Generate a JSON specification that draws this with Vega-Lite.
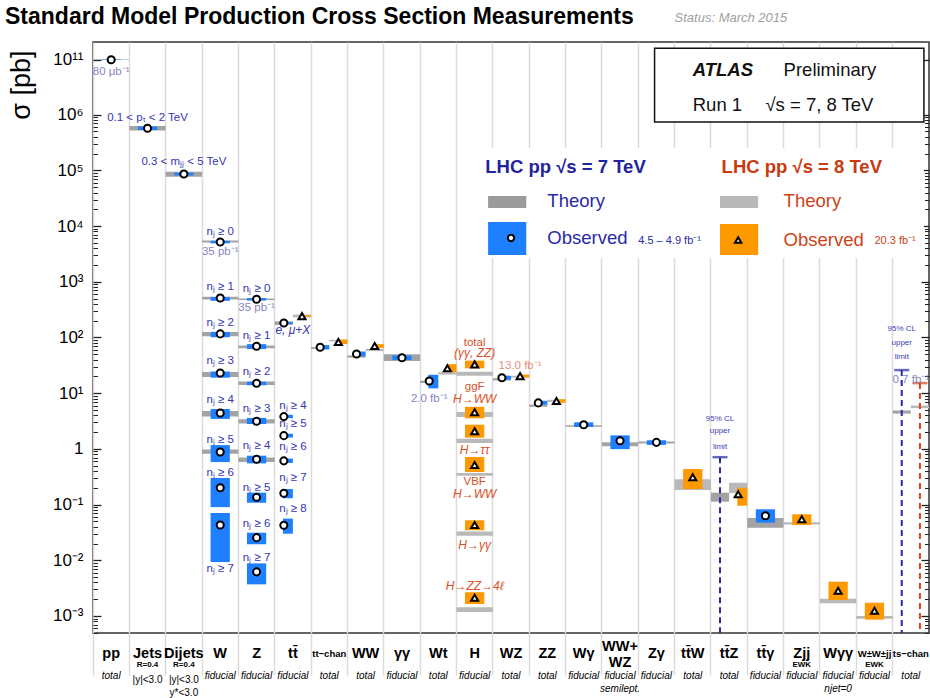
{
  "$schema": "https://vega.github.io/schema/vega-lite/v6.json",
  "width": 836,
  "height": 591,
  "autosize": {"type": "none"},
  "padding": {"left": 93, "top": 42, "right": 1, "bottom": 65},
  "background": "white",
  "title": {"text": "Standard Model Production Cross Section Measurements", "anchor": "start", "frame": "group", "dx": -88, "offset": 0, "dy": 17, "fontSize": 23, "fontWeight": "bold", "font": "Liberation Sans", "color": "black"},
  "config": {"view": {"stroke": "#333333", "strokeWidth": 1.5}, "font": "Liberation Sans", "text": {"font": "Liberation Sans"}, "axis": {"labelFont": "Liberation Sans", "titleFont": "Liberation Sans"}},
  "resolve": {"scale": {"color": "independent", "size": "independent", "stroke": "independent", "fill": "independent"}, "axis": {"x": "independent", "y": "independent"}},
  "datasets": {
    "meas": [
      {"process": "pp", "energy": "7 TeV", "label": "total", "value": 95000000000, "olo": 90000000000, "ohi": 100000000000, "tlo": 92000000000, "thi": 99000000000},
      {"process": "Jets", "energy": "7 TeV", "label": "R=0.4", "value": 570000, "olo": 530000, "ohi": 615000, "tlo": 520000, "thi": 630000},
      {"process": "Dijets", "energy": "7 TeV", "label": "R=0.4", "value": 86000, "olo": 81000, "ohi": 91000, "tlo": 77000, "thi": 95000},
      {"process": "W", "energy": "7 TeV", "label": "nj>=0", "value": 5180, "olo": 4900, "ohi": 5450, "tlo": 5100, "thi": 5500},
      {"process": "W", "energy": "7 TeV", "label": "nj>=1", "value": 512, "olo": 455, "ohi": 535, "tlo": 480, "thi": 540},
      {"process": "W", "energy": "7 TeV", "label": "nj>=2", "value": 116, "olo": 101, "ohi": 126, "tlo": 105, "thi": 125},
      {"process": "W", "energy": "7 TeV", "label": "nj>=3", "value": 23, "olo": 19, "ohi": 24.5, "tlo": 19.5, "thi": 24},
      {"process": "W", "energy": "7 TeV", "label": "nj>=4", "value": 4.4, "olo": 3.45, "ohi": 5.2, "tlo": 3.8, "thi": 4.8},
      {"process": "W", "energy": "7 TeV", "label": "nj>=5", "value": 0.88, "olo": 0.58, "ohi": 1.17, "tlo": 0.82, "thi": 0.98},
      {"process": "W", "energy": "7 TeV", "label": "nj>=6", "value": 0.2, "olo": 0.09, "ohi": 0.3, "tlo": null, "thi": null},
      {"process": "W", "energy": "7 TeV", "label": "nj>=7", "value": 0.043, "olo": 0.0093, "ohi": 0.0706, "tlo": null, "thi": null},
      {"process": "Z", "energy": "7 TeV", "label": "nj>=0", "value": 485, "olo": 460, "ohi": 510, "tlo": 470, "thi": 500},
      {"process": "Z", "energy": "7 TeV", "label": "nj>=1", "value": 69.5, "olo": 62, "ohi": 76, "tlo": 64, "thi": 72},
      {"process": "Z", "energy": "7 TeV", "label": "nj>=2", "value": 15.1, "olo": 13.9, "ohi": 16.1, "tlo": 14, "thi": 16.2},
      {"process": "Z", "energy": "7 TeV", "label": "nj>=3", "value": 3.13, "olo": 2.8, "ohi": 3.6, "tlo": 2.85, "thi": 3.4},
      {"process": "Z", "energy": "7 TeV", "label": "nj>=4", "value": 0.65, "olo": 0.55, "ohi": 0.755, "tlo": 0.58, "thi": 0.7},
      {"process": "Z", "energy": "7 TeV", "label": "nj>=5", "value": 0.135, "olo": 0.108, "ohi": 0.164, "tlo": null, "thi": null},
      {"process": "Z", "energy": "7 TeV", "label": "nj>=6", "value": 0.0255, "olo": 0.0194, "ohi": 0.0313, "tlo": null, "thi": null},
      {"process": "Z", "energy": "7 TeV", "label": "nj>=7", "value": 0.0062, "olo": 0.0037, "ohi": 0.0088, "tlo": null, "thi": null},
      {"process": "ttbar", "energy": "7 TeV", "label": "total", "value": 182, "olo": 176, "ohi": 189, "tlo": 168, "thi": 195},
      {"process": "ttbar", "energy": "8 TeV", "label": "total", "value": 242, "olo": 235, "ohi": 250, "tlo": 230, "thi": 258},
      {"process": "ttbar", "energy": "7 TeV", "label": "nj>=4", "value": 3.8, "olo": 3.55, "ohi": 4.1, "tlo": null, "thi": null},
      {"process": "ttbar", "energy": "7 TeV", "label": "nj>=5", "value": 1.73, "olo": 1.6, "ohi": 1.87, "tlo": null, "thi": null},
      {"process": "ttbar", "energy": "7 TeV", "label": "nj>=6", "value": 0.61, "olo": 0.56, "ohi": 0.67, "tlo": null, "thi": null},
      {"process": "ttbar", "energy": "7 TeV", "label": "nj>=7", "value": 0.16, "olo": 0.13, "ohi": 0.19, "tlo": null, "thi": null},
      {"process": "ttbar", "energy": "7 TeV", "label": "nj>=8", "value": 0.0425, "olo": 0.03, "ohi": 0.056, "tlo": null, "thi": null},
      {"process": "t-chan", "energy": "7 TeV", "label": "total", "value": 66.7, "olo": 61, "ohi": 73, "tlo": 62, "thi": 67},
      {"process": "t-chan", "energy": "8 TeV", "label": "total", "value": 83, "olo": 76, "ohi": 92, "tlo": 85, "thi": 91},
      {"process": "WW", "energy": "7 TeV", "label": "total", "value": 50.6, "olo": 46, "ohi": 56, "tlo": 43.5, "thi": 47.5},
      {"process": "WW", "energy": "8 TeV", "label": "total", "value": 70.3, "olo": 65, "ohi": 76, "tlo": 57, "thi": 62.5},
      {"process": "γγ", "energy": "7 TeV", "label": "fiducial", "value": 43.4, "olo": 39.4, "ohi": 47.6, "tlo": 37.9, "thi": 49.9},
      {"process": "Wt", "energy": "7 TeV", "label": "total", "value": 16.6, "olo": 12.2, "ohi": 21.4, "tlo": 15.2, "thi": 16.8},
      {"process": "Wt", "energy": "8 TeV", "label": "total", "value": 28, "olo": 23.9, "ohi": 33.2, "tlo": 21.6, "thi": 23.8},
      {"process": "H", "energy": "8 TeV", "label": "total", "value": 33, "olo": 28, "ohi": 38.4, "tlo": 20.6, "thi": 24.3},
      {"process": "H", "energy": "8 TeV", "label": "ggF H→WW", "value": 4.54, "olo": 3.54, "ohi": 5.7, "tlo": 3.74, "thi": 4.6},
      {"process": "H", "energy": "8 TeV", "label": "H→ττ", "value": 2.07, "olo": 1.59, "ohi": 2.72, "tlo": 1.28, "thi": 1.52},
      {"process": "H", "energy": "8 TeV", "label": "VBF H→WW", "value": 0.514, "olo": 0.385, "ohi": 0.716, "tlo": 0.33, "thi": 0.37},
      {"process": "H", "energy": "8 TeV", "label": "H→γγ", "value": 0.043, "olo": 0.0346, "ohi": 0.0522, "tlo": 0.0277, "thi": 0.033},
      {"process": "H", "energy": "8 TeV", "label": "H→ZZ→4l", "value": 0.00213, "olo": 0.00164, "ohi": 0.00267, "tlo": 0.00118, "thi": 0.00143},
      {"process": "WZ", "energy": "7 TeV", "label": "total", "value": 19, "olo": 17.5, "ohi": 20.6, "tlo": 16.9, "thi": 18.6},
      {"process": "WZ", "energy": "8 TeV", "label": "total", "value": 20.3, "olo": 19.2, "ohi": 21.6, "tlo": 19, "thi": 20.6},
      {"process": "ZZ", "energy": "7 TeV", "label": "total", "value": 6.7, "olo": 6.2, "ohi": 7.3, "tlo": 5.7, "thi": 6.25},
      {"process": "ZZ", "energy": "8 TeV", "label": "total", "value": 7.25, "olo": 6.75, "ohi": 7.8, "tlo": 7, "thi": 7.6},
      {"process": "Wγ", "energy": "7 TeV", "label": "fiducial", "value": 2.72, "olo": 2.47, "ohi": 3, "tlo": 2.5, "thi": 2.66},
      {"process": "WW+WZ", "energy": "7 TeV", "label": "fiducial", "value": 1.4, "olo": 0.99, "ohi": 1.75, "tlo": 1.12, "thi": 1.32},
      {"process": "Zγ", "energy": "7 TeV", "label": "fiducial", "value": 1.31, "olo": 1.18, "ohi": 1.43, "tlo": 1.25, "thi": 1.36},
      {"process": "ttW", "energy": "8 TeV", "label": "total", "value": 0.31, "olo": 0.19, "ohi": 0.435, "tlo": 0.183, "thi": 0.285},
      {"process": "ttZ", "energy": "7 TeV", "label": "total", "value": null, "olo": null, "ohi": null, "tlo": 0.1127, "thi": 0.1637},
      {"process": "ttZ", "energy": "8 TeV", "label": "total", "value": 0.153, "olo": 0.0955, "ohi": 0.2, "tlo": 0.161, "thi": 0.247},
      {"process": "ttγ", "energy": "7 TeV", "label": "fiducial", "value": 0.063, "olo": 0.0473, "ohi": 0.0824, "tlo": 0.0385, "thi": 0.0575},
      {"process": "Zjj", "energy": "8 TeV", "label": "fiducial", "value": 0.0545, "olo": 0.043, "ohi": 0.067, "tlo": 0.044, "thi": 0.048},
      {"process": "Wγγ", "energy": "8 TeV", "label": "fiducial", "value": 0.00284, "olo": 0.00194, "ohi": 0.00413, "tlo": 0.00169, "thi": 0.00205},
      {"process": "W±W±jj", "energy": "8 TeV", "label": "fiducial", "value": 0.00124, "olo": 0.00086, "ohi": 0.00173, "tlo": 0.00089, "thi": 0.001},
      {"process": "s-chan", "energy": "7 TeV", "label": "total", "value": null, "olo": null, "ohi": null, "tlo": 4.3, "thi": 4.9},
      {"process": "s-chan", "energy": "8 TeV", "label": "total", "value": null, "olo": null, "ohi": null, "tlo": 5.4, "thi": 6.0}
    ],
    "limits": [
      {"process": "ttZ", "energy": "7 TeV", "value": 0.71},
      {"process": "s-chan", "energy": "7 TeV", "value": 26},
      {"process": "s-chan", "energy": "8 TeV", "value": 15.2}
    ],
    "boxes": [
      {"from": "H", "to": "s-chan", "lo": 2670, "hi": 250000, "kind": "bg"},
      {"from": "Zγ", "to": "s-chan", "lo": 740000, "hi": 1050000000000, "kind": "box"}
    ],
    "swatch7": [
      {"from": "H", "to": "WZ", "lo": 21100, "hi": 34700, "kind": "th"},
      {"from": "H", "to": "WZ", "lo": 3030, "hi": 11900, "kind": "ob"}
    ],
    "swatch8": [
      {"from": "ttZ", "to": "ttγ", "lo": 21100, "hi": 34700, "kind": "th"},
      {"from": "ttZ", "to": "ttγ", "lo": 3030, "hi": 10900, "kind": "ob"}
    ],
    "legpt7": [{"process": "WZ", "energy": "7 TeV", "value": 6110}],
    "legpt8": [{"process": "ttZ", "energy": "8 TeV", "value": 5620}],
    "notesA": [
      {"process": "Jets", "value": 880000, "text": "0.1 < pₜ < 2 TeV", "kind": "cut"},
      {"process": "Dijets", "value": 142000, "text": "0.3 < mⱼⱼ < 5 TeV", "kind": "cut"},
      {"process": "W", "value": 7740, "text": "nⱼ ≥ 0", "kind": "cut"},
      {"process": "W", "value": 796, "text": "nⱼ ≥ 1", "kind": "cut"},
      {"process": "W", "value": 180, "text": "nⱼ ≥ 2", "kind": "cut"},
      {"process": "W", "value": 37.4, "text": "nⱼ ≥ 3", "kind": "cut"},
      {"process": "W", "value": 7.55, "text": "nⱼ ≥ 4", "kind": "cut"},
      {"process": "W", "value": 1.445, "text": "nⱼ ≥ 5", "kind": "cut"},
      {"process": "W", "value": 0.365, "text": "nⱼ ≥ 6", "kind": "cut"},
      {"process": "W", "value": 0.00689, "text": "nⱼ ≥ 7", "kind": "cut"},
      {"process": "Z", "value": 733, "text": "nⱼ ≥ 0", "kind": "cut"},
      {"process": "Z", "value": 108, "text": "nⱼ ≥ 1", "kind": "cut"},
      {"process": "Z", "value": 24.3, "text": "nⱼ ≥ 2", "kind": "cut"},
      {"process": "Z", "value": 5.14, "text": "nⱼ ≥ 3", "kind": "cut"},
      {"process": "Z", "value": 1.14, "text": "nⱼ ≥ 4", "kind": "cut"},
      {"process": "Z", "value": 0.196, "text": "nⱼ ≥ 5", "kind": "cut"},
      {"process": "Z", "value": 0.0443, "text": "nⱼ ≥ 6", "kind": "cut"},
      {"process": "Z", "value": 0.01086, "text": "nⱼ ≥ 7", "kind": "cut"},
      {"process": "ttbar", "value": 5.9, "text": "nⱼ ≥ 4", "kind": "cut"},
      {"process": "ttbar", "value": 2.8, "text": "nⱼ ≥ 5", "kind": "cut"},
      {"process": "ttbar", "value": 1.07, "text": "nⱼ ≥ 6", "kind": "cut"},
      {"process": "ttbar", "value": 0.296, "text": "nⱼ ≥ 7", "kind": "cut"},
      {"process": "ttbar", "value": 0.0824, "text": "nⱼ ≥ 8", "kind": "cut"},
      {"process": "pp", "value": 7400000000, "text": "80 μb⁻¹", "kind": "lumi"},
      {"process": "W", "value": 3470, "text": "35 pb⁻¹", "kind": "lumi"},
      {"process": "Z", "value": 334, "text": "35 pb⁻¹", "kind": "lumi"},
      {"process": "s-chan", "value": 17.3, "text": "0.7 fb⁻¹", "kind": "lumi"},
      {"process": "H", "value": 80.7, "text": "total", "kind": "hup"},
      {"process": "H", "value": 12.8, "text": "ggF", "kind": "hup"},
      {"process": "H", "value": 0.255, "text": "VBF", "kind": "hup"}
    ],
    "notesB": [
      {"process": "H", "value": 52, "text": "(γγ, ZZ)", "kind": "hit"},
      {"process": "H", "value": 7.78, "text": "H→WW", "kind": "hit"},
      {"process": "H", "value": 0.955, "text": "H→ττ", "kind": "hit"},
      {"process": "H", "value": 0.157, "text": "H→WW", "kind": "hit"},
      {"process": "H", "value": 0.0188, "text": "H→γγ", "kind": "hit"},
      {"process": "H", "value": 0.00346, "text": "H→ZZ→4ℓ", "kind": "hit"},
      {"process": "ttbar", "value": 136, "text": "e, μ+X", "kind": "cutit"}
    ],
    "notesC": [
      {"process": "Wt", "energy": "7 TeV", "value": 7.96, "text": "2.0 fb⁻¹", "kind": "lumi7"},
      {"process": "WZ", "energy": "8 TeV", "value": 30.8, "text": "13.0 fb⁻¹", "kind": "lumi8"},
      {"process": "ttZ", "energy": "7 TeV", "value": 3.49, "text": "95% CL", "kind": "cl"},
      {"process": "ttZ", "energy": "7 TeV", "value": 2.12, "text": "upper", "kind": "cl"},
      {"process": "ttZ", "energy": "7 TeV", "value": 1.07, "text": "limit", "kind": "cl"},
      {"process": "s-chan", "energy": "7 TeV", "value": 142, "text": "95% CL", "kind": "cl"},
      {"process": "s-chan", "energy": "7 TeV", "value": 79.6, "text": "upper", "kind": "cl"},
      {"process": "s-chan", "energy": "7 TeV", "value": 44.7, "text": "limit", "kind": "cl"}
    ],
    "legD": [{"process": "Wγ", "value": 115000, "text": "LHC pp  √s = 7 TeV"}],
    "legE": [{"process": "Zjj", "value": 115000, "text": "LHC pp  √s = 8 TeV"}],
    "legF": [
      {"process": "ZZ", "value": 28200, "text": "Theory", "kind": "leg7"},
      {"process": "ZZ", "value": 6110, "text": "Observed", "kind": "leg7"},
      {"process": "ttW", "value": 7600000, "text": "Run 1", "kind": "black"},
      {"process": "ttγ", "value": 7600000, "text": "√s = 7, 8 TeV", "kind": "black"},
      {"process": "W±W±jj", "value": 5400, "text": "20.3 fb⁻¹", "kind": "leg8s"}
    ],
    "legG": [
      {"process": "Zjj", "value": 28200, "text": "Theory", "kind": "leg8"},
      {"process": "Zjj", "value": 5620, "text": "Observed", "kind": "leg8"},
      {"process": "Zjj", "value": 11200000000, "text": "Preliminary", "kind": "black"},
      {"process": "Zγ", "value": 5400, "text": "4.5 – 4.9 fb⁻¹", "kind": "leg7s"}
    ],
    "legJ": [{"process": "ttW", "value": 11200000000, "text": "ATLAS"}],
    "legK": [{"process": "ttW", "value": 550000000000000, "text": "Status: March 2015"}]
  },
  "layer": [
    {
      "data": {"name": "boxes"},
      "mark": {"type": "rect", "strokeWidth": 1.5, "fill": "white"},
      "encoding": {
        "x": {"field": "from", "type": "nominal", "bandPosition": 0.45, "axis": null},
        "x2": {"field": "to", "bandPosition": 0.86},
        "y": {"field": "lo", "type": "quantitative", "axis": null},
        "y2": {"field": "hi"},
        "stroke": {"field": "kind", "type": "nominal", "scale": {"domain": ["bg", "box"], "range": ["rgba(255,255,255,0)", "#111111"]}, "legend": null}
      }
    },
    {
      "data": {"name": "meas"},
      "transform": [{"filter": {"not": {"field": "process", "oneOf": ["ttbar", "t-chan", "WW", "Wt", "WZ", "ZZ", "ttZ", "s-chan"]}}}, {"filter": "isValid(datum.tlo)"}],
      "mark": {"type": "bar"},
      "encoding": {
        "x": {"field": "process", "type": "nominal",
          "scale": {"domain": ["pp", "Jets", "Dijets", "W", "Z", "ttbar", "t-chan", "WW", "γγ", "Wt", "H", "WZ", "ZZ", "Wγ", "WW+WZ", "Zγ", "ttW", "ttZ", "ttγ", "Zjj", "Wγγ", "W±W±jj", "s-chan"], "paddingInner": 0, "paddingOuter": 0},
          "axis": {"orient": "bottom", "bandPosition": 0, "labels": false, "domain": false, "ticks": true, "tickSize": 42, "tickColor": "#dcdcdc", "tickWidth": 1.5, "grid": true, "gridColor": "#dcdcdc", "gridWidth": 1.5, "title": null}},
        "y": {"field": "tlo", "type": "quantitative",
          "scale": {"type": "log", "domain": [0.000495, 1000000, 100000000000, 3800000000000], "range": [591, 72.7, 17.5, 0], "nice": false, "zero": false},
          "axis": {"orient": "left", "values": [0.001, 0.01, 0.1, 1, 10, 100, 1000, 10000, 100000, 1000000, 100000000000],
            "labelExpr": "['10⁻³','10⁻²','10⁻¹','1','10¹','10²','10³','10⁴','10⁵','10⁶','','','','','10¹¹'][round(log(datum.value)/LN10)+3]",
            "tickSize": -8, "tickWidth": 1.3, "tickColor": "#222222", "labelFontSize": 17, "labelColor": "black", "labelPadding": 18, "labelBaseline": "middle", "labelOverlap": false, "labelFlush": false, "domain": false, "grid": false,
            "title": "σ [pb]", "titleFontSize": 27, "titleFontWeight": "normal", "titleColor": "black", "titleAnchor": "end", "titleAngle": -90, "titleX": -72, "titleY": 8, "titleAlign": "right", "titleBaseline": "middle"}},
        "y2": {"field": "thi"},
        "color": {"field": "energy", "type": "nominal", "scale": {"domain": ["7 TeV", "8 TeV"], "range": ["#a3a3a3", "#b9b9b9"]}, "legend": null}
      }
    },
    {
      "data": {"name": "meas"},
      "transform": [{"filter": {"field": "process", "oneOf": ["ttbar", "t-chan", "WW", "Wt", "WZ", "ZZ", "ttZ", "s-chan"]}}, {"filter": "isValid(datum.tlo)"}],
      "mark": {"type": "bar"},
      "encoding": {
        "x": {"field": "process", "type": "nominal",
          "axis": {"orient": "bottom", "ticks": false, "domain": false, "grid": false, "title": null, "labelAngle": 0, "labelOverlap": false, "labelBound": false, "labelLimit": 0,
            "labelExpr": "datum.value == 'ttbar' ? 'tt̄' : datum.value == 't-chan' ? 'tt−chan' : datum.value == 's-chan' ? 'ts−chan' : datum.value == 'WW+WZ' ? ['WW+', 'WZ'] : datum.value == 'ttW' ? 'tt̄W' : datum.value == 'ttZ' ? 'tt̄Z' : datum.value == 'ttγ' ? 'tt̄γ' : datum.value",
            "labelFontSize": {"condition": {"test": "datum.value == 't-chan' || datum.value == 's-chan' || datum.value == 'W±W±jj'", "value": 9.5}, "value": 14.5},
            "labelPadding": {"condition": {"test": "datum.value == 'WW+WZ'", "value": 13}, "value": 20},
            "labelFontWeight": "bold", "labelColor": "black", "labelBaseline": "middle", "labelLineHeight": 16}},
        "xOffset": {"field": "energy", "type": "nominal", "scale": {"domain": ["7 TeV", "8 TeV"], "paddingInner": 0, "paddingOuter": 0}},
        "y": {"field": "tlo", "type": "quantitative",
          "axis": {"orient": "left", "values": [0.0005, 0.0006, 0.0007, 0.0008, 0.0009, 0.002, 0.003, 0.004, 0.005, 0.006, 0.007, 0.008, 0.009, 0.02, 0.03, 0.04, 0.05, 0.06, 0.07, 0.08, 0.09, 0.2, 0.3, 0.4, 0.5, 0.6, 0.7, 0.8, 0.9, 2, 3, 4, 5, 6, 7, 8, 9, 20, 30, 40, 50, 60, 70, 80, 90, 200, 300, 400, 500, 600, 700, 800, 900, 2000, 3000, 4000, 5000, 6000, 7000, 8000, 9000, 20000, 30000, 40000, 50000, 60000, 70000, 80000, 90000, 200000, 300000, 400000, 500000, 600000, 700000, 800000, 900000],
            "labels": false, "tickSize": -4.5, "tickWidth": 1, "tickColor": "#222222", "domain": false, "grid": false, "title": null}},
        "y2": {"field": "thi"},
        "color": {"field": "energy", "type": "nominal", "scale": {"domain": ["7 TeV", "8 TeV"], "range": ["#a3a3a3", "#b9b9b9"]}, "legend": null}
      }
    },
    {
      "data": {"name": "meas"},
      "transform": [{"filter": {"not": {"field": "process", "oneOf": ["ttbar", "t-chan", "WW", "Wt", "WZ", "ZZ", "ttZ", "s-chan"]}}}, {"filter": "isValid(datum.olo)"}],
      "mark": {"type": "bar", "width": {"band": 0.53}},
      "encoding": {
        "x": {"field": "process", "type": "nominal",
          "axis": {"orient": "bottom", "ticks": false, "domain": false, "grid": false, "title": null, "labelAngle": 0, "labelOverlap": false, "labelBound": false,
            "labelExpr": "(datum.value == 'Jets' || datum.value == 'Dijets') ? 'R=0.4' : (datum.value == 'Zjj' || datum.value == 'W±W±jj') ? 'EWK' : ''",
            "labelFontSize": 8, "labelFontWeight": "bold", "labelColor": "black", "labelPadding": 31, "labelBaseline": "middle"}},
        "y": {"field": "olo", "type": "quantitative",
          "axis": {"orient": "right", "values": [0.001, 0.01, 0.1, 1, 10, 100, 1000, 10000, 100000, 1000000, 100000000000], "labels": false, "tickSize": -8, "tickWidth": 1.3, "tickColor": "#222222", "domain": false, "grid": false, "title": null}},
        "y2": {"field": "ohi"},
        "color": {"field": "energy", "type": "nominal", "scale": {"domain": ["7 TeV", "8 TeV"], "range": ["#1f80ff", "#ff9900"]}, "legend": null}
      }
    },
    {
      "data": {"name": "meas"},
      "transform": [{"filter": {"field": "process", "oneOf": ["ttbar", "t-chan", "WW", "Wt", "WZ", "ZZ", "ttZ", "s-chan"]}}, {"filter": "isValid(datum.olo)"}],
      "mark": {"type": "bar", "width": {"band": 0.55}},
      "encoding": {
        "x": {"field": "process", "type": "nominal",
          "axis": {"orient": "bottom", "ticks": false, "domain": false, "grid": false, "title": null, "labelAngle": 0, "labelOverlap": false, "labelBound": false, "labelLimit": 0,
            "labelExpr": "datum.value == 'Jets' ? '|y|<3.0' : datum.value == 'Dijets' ? ['|y|<3.0', 'y*<3.0'] : datum.value == 'WW+WZ' ? ['fiducial', 'semilept.'] : datum.value == 'Wγγ' ? ['fiducial', 'njet=0'] : indexof(['pp','t-chan','WW','Wt','WZ','ZZ','ttW','ttZ','s-chan'], datum.value) >= 0 ? 'total' : 'fiducial'",
            "labelFontSize": 10, "labelFontStyle": {"condition": {"test": "datum.value == 'Jets' || datum.value == 'Dijets'", "value": "normal"}, "value": "italic"},
            "labelPadding": {"condition": {"test": "datum.value == 'Jets' || datum.value == 'Dijets'", "value": 41}, "value": 37},
            "labelColor": "black", "labelBaseline": "top", "labelLineHeight": 13}},
        "xOffset": {"field": "energy", "type": "nominal"},
        "y": {"field": "olo", "type": "quantitative",
          "axis": {"orient": "right", "values": [0.0005, 0.0006, 0.0007, 0.0008, 0.0009, 0.002, 0.003, 0.004, 0.005, 0.006, 0.007, 0.008, 0.009, 0.02, 0.03, 0.04, 0.05, 0.06, 0.07, 0.08, 0.09, 0.2, 0.3, 0.4, 0.5, 0.6, 0.7, 0.8, 0.9, 2, 3, 4, 5, 6, 7, 8, 9, 20, 30, 40, 50, 60, 70, 80, 90, 200, 300, 400, 500, 600, 700, 800, 900, 2000, 3000, 4000, 5000, 6000, 7000, 8000, 9000, 20000, 30000, 40000, 50000, 60000, 70000, 80000, 90000, 200000, 300000, 400000, 500000, 600000, 700000, 800000, 900000],
            "labels": false, "tickSize": -4.5, "tickWidth": 1, "tickColor": "#222222", "domain": false, "grid": false, "title": null}},
        "y2": {"field": "ohi"},
        "color": {"field": "energy", "type": "nominal", "scale": {"domain": ["7 TeV", "8 TeV"], "range": ["#1f80ff", "#ff9900"]}, "legend": null}
      }
    },
    {
      "data": {"name": "limits"},
      "mark": {"type": "rule", "strokeDash": [6, 4], "strokeWidth": 2},
      "encoding": {
        "x": {"field": "process", "type": "nominal", "axis": null},
        "xOffset": {"field": "energy", "type": "nominal"},
        "y": {"field": "value", "type": "quantitative", "axis": null},
        "y2": {"datum": 0.000495},
        "color": {"field": "energy", "type": "nominal", "scale": {"domain": ["7 TeV", "8 TeV"], "range": ["#2a2aa8", "#d9441c"]}, "legend": null}
      }
    },
    {
      "data": {"name": "limits"},
      "mark": {"type": "tick", "size": 15, "thickness": 2.5},
      "encoding": {
        "x": {"field": "process", "type": "nominal", "axis": null},
        "xOffset": {"field": "energy", "type": "nominal"},
        "y": {"field": "value", "type": "quantitative", "axis": null},
        "color": {"field": "energy", "type": "nominal", "scale": {"domain": ["7 TeV", "8 TeV"], "range": ["#2a2aa8", "#d9441c"]}, "legend": null}
      }
    },
    {
      "data": {"name": "meas"},
      "transform": [{"filter": {"not": {"field": "process", "oneOf": ["ttbar", "t-chan", "WW", "Wt", "WZ", "ZZ", "ttZ", "s-chan"]}}}, {"filter": "isValid(datum.value)"}],
      "mark": {"type": "point", "filled": true, "fill": "white", "stroke": "black", "strokeWidth": 2, "size": 50, "opacity": 1},
      "encoding": {
        "x": {"field": "process", "type": "nominal", "axis": null},
        "y": {"field": "value", "type": "quantitative", "axis": null},
        "shape": {"field": "energy", "type": "nominal", "scale": {"domain": ["7 TeV", "8 TeV"], "range": ["circle", "triangle-up"]}, "legend": null}
      }
    },
    {
      "data": {"name": "meas"},
      "transform": [{"filter": {"field": "process", "oneOf": ["ttbar", "t-chan", "WW", "Wt", "WZ", "ZZ", "ttZ", "s-chan"]}}, {"filter": "isValid(datum.value)"}],
      "mark": {"type": "point", "filled": true, "fill": "white", "stroke": "black", "strokeWidth": 2, "size": 50, "opacity": 1},
      "encoding": {
        "x": {"field": "process", "type": "nominal", "axis": null},
        "xOffset": {"field": "energy", "type": "nominal"},
        "y": {"field": "value", "type": "quantitative", "axis": null},
        "shape": {"field": "energy", "type": "nominal", "scale": {"domain": ["7 TeV", "8 TeV"], "range": ["circle", "triangle-up"]}, "legend": null}
      }
    },
    {
      "data": {"name": "swatch7"},
      "mark": {"type": "rect"},
      "encoding": {
        "x": {"field": "from", "type": "nominal", "bandPosition": 0.87, "axis": null},
        "x2": {"field": "to", "bandPosition": 0.92},
        "y": {"field": "lo", "type": "quantitative", "axis": null},
        "y2": {"field": "hi"},
        "color": {"field": "kind", "type": "nominal", "scale": {"domain": ["th", "ob"], "range": ["#9b9b9b", "#1f80ff"]}, "legend": null}
      }
    },
    {
      "data": {"name": "swatch8"},
      "mark": {"type": "rect"},
      "encoding": {
        "x": {"field": "from", "type": "nominal", "bandPosition": 0.25, "axis": null},
        "x2": {"field": "to", "bandPosition": 0.3},
        "y": {"field": "lo", "type": "quantitative", "axis": null},
        "y2": {"field": "hi"},
        "color": {"field": "kind", "type": "nominal", "scale": {"domain": ["th", "ob"], "range": ["#b9b9b9", "#ff9900"]}, "legend": null}
      }
    },
    {
      "data": {"name": "legpt7"},
      "mark": {"type": "point", "filled": true, "fill": "white", "stroke": "black", "strokeWidth": 2, "size": 40, "opacity": 1},
      "encoding": {
        "x": {"field": "process", "type": "nominal", "axis": null},
        "y": {"field": "value", "type": "quantitative", "axis": null},
        "shape": {"field": "energy", "type": "nominal", "scale": {"domain": ["7 TeV", "8 TeV"], "range": ["circle", "triangle-up"]}, "legend": null}
      }
    },
    {
      "data": {"name": "legpt8"},
      "mark": {"type": "point", "filled": true, "fill": "white", "stroke": "black", "strokeWidth": 2, "size": 40, "opacity": 1},
      "encoding": {
        "x": {"field": "process", "type": "nominal", "axis": null},
        "xOffset": {"field": "energy", "type": "nominal"},
        "y": {"field": "value", "type": "quantitative", "axis": null},
        "shape": {"field": "energy", "type": "nominal", "scale": {"domain": ["7 TeV", "8 TeV"], "range": ["circle", "triangle-up"]}, "legend": null}
      }
    },
    {
      "data": {"name": "notesA"},
      "mark": {"type": "text", "fontSize": 11.5, "baseline": "middle"},
      "encoding": {
        "x": {"field": "process", "type": "nominal", "axis": null},
        "y": {"field": "value", "type": "quantitative", "axis": null},
        "text": {"field": "text"},
        "color": {"field": "kind", "type": "nominal", "scale": {"domain": ["cut", "lumi", "hup"], "range": ["#3535b5", "#8585c2", "#d6502a"]}, "legend": null}
      }
    },
    {
      "data": {"name": "notesB"},
      "mark": {"type": "text", "fontSize": 12, "fontStyle": "italic", "baseline": "middle"},
      "encoding": {
        "x": {"field": "process", "type": "nominal", "axis": null},
        "y": {"field": "value", "type": "quantitative", "axis": null},
        "text": {"field": "text"},
        "color": {"field": "kind", "type": "nominal", "scale": {"domain": ["hit", "cutit"], "range": ["#d6502a", "#3535b5"]}, "legend": null}
      }
    },
    {
      "data": {"name": "notesC"},
      "mark": {"type": "text", "baseline": "middle"},
      "encoding": {
        "x": {"field": "process", "type": "nominal", "axis": null},
        "xOffset": {"field": "energy", "type": "nominal"},
        "y": {"field": "value", "type": "quantitative", "axis": null},
        "text": {"field": "text"},
        "size": {"field": "kind", "type": "nominal", "scale": {"type": "ordinal", "domain": ["lumi7", "lumi8", "cl"], "range": [11.5, 11.5, 8]}, "legend": null},
        "color": {"field": "kind", "type": "nominal", "scale": {"domain": ["lumi7", "lumi8", "cl"], "range": ["#8585c2", "#e39178", "#3d3db5"]}, "legend": null}
      }
    },
    {
      "data": {"name": "legD"},
      "mark": {"type": "text", "fontSize": 18.5, "fontWeight": "bold", "color": "#22229e", "baseline": "middle", "align": "center"},
      "encoding": {
        "x": {"field": "process", "type": "nominal", "bandPosition": 0, "axis": null},
        "y": {"field": "value", "type": "quantitative", "axis": null},
        "text": {"field": "text"}
      }
    },
    {
      "data": {"name": "legE"},
      "mark": {"type": "text", "fontSize": 18.5, "fontWeight": "bold", "color": "#c83a10", "baseline": "middle", "align": "center"},
      "encoding": {
        "x": {"field": "process", "type": "nominal", "axis": null},
        "y": {"field": "value", "type": "quantitative", "axis": null},
        "text": {"field": "text"}
      }
    },
    {
      "data": {"name": "legF"},
      "mark": {"type": "text", "baseline": "middle", "align": "left"},
      "encoding": {
        "x": {"field": "process", "type": "nominal", "axis": null},
        "y": {"field": "value", "type": "quantitative", "axis": null},
        "text": {"field": "text"},
        "size": {"field": "kind", "type": "nominal", "scale": {"type": "ordinal", "domain": ["leg7", "black", "leg8s"], "range": [18.5, 18.5, 11]}, "legend": null},
        "color": {"field": "kind", "type": "nominal", "scale": {"domain": ["leg7", "black", "leg8s"], "range": ["#2a2aa8", "#111111", "#cc4416"]}, "legend": null}
      }
    },
    {
      "data": {"name": "legG"},
      "mark": {"type": "text", "baseline": "middle", "align": "left"},
      "encoding": {
        "x": {"field": "process", "type": "nominal", "bandPosition": 0, "axis": null},
        "y": {"field": "value", "type": "quantitative", "axis": null},
        "text": {"field": "text"},
        "size": {"field": "kind", "type": "nominal", "scale": {"type": "ordinal", "domain": ["leg8", "black", "leg7s"], "range": [18.5, 18.5, 11]}, "legend": null},
        "color": {"field": "kind", "type": "nominal", "scale": {"domain": ["leg8", "black", "leg7s"], "range": ["#cc4416", "#111111", "#2a2aa8"]}, "legend": null}
      }
    },
    {
      "data": {"name": "legJ"},
      "mark": {"type": "text", "fontSize": 18.5, "fontWeight": "bold", "fontStyle": "italic", "color": "#111111", "baseline": "middle", "align": "left"},
      "encoding": {
        "x": {"field": "process", "type": "nominal", "axis": null},
        "y": {"field": "value", "type": "quantitative", "axis": null},
        "text": {"field": "text"}
      }
    },
    {
      "data": {"name": "legK"},
      "mark": {"type": "text", "fontSize": 13, "fontStyle": "italic", "color": "#a0a0a0", "baseline": "middle", "align": "left"},
      "encoding": {
        "x": {"field": "process", "type": "nominal", "bandPosition": 0, "axis": null},
        "y": {"field": "value", "type": "quantitative", "axis": null},
        "text": {"field": "text"}
      }
    }
  ]
}
